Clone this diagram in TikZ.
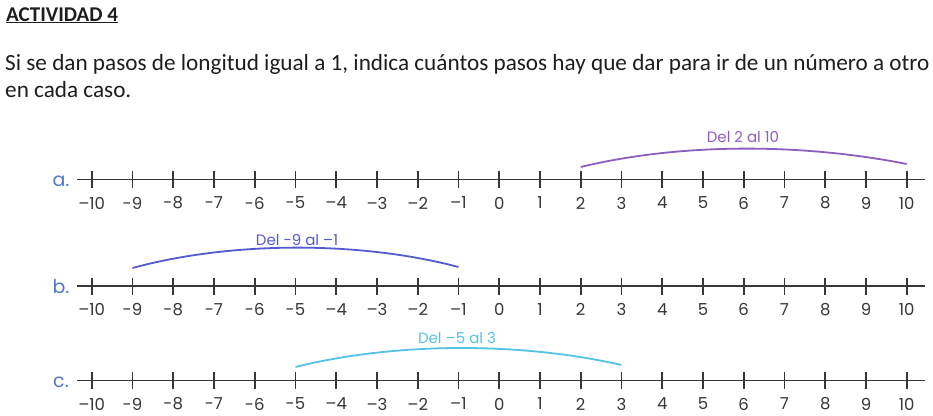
\documentclass[tikz,border=0pt]{standalone}
\usepackage{fontspec}
\setmainfont{Carlito}
\newfontfamily\numfont{Poppins}
\definecolor{ink}{RGB}{30,30,30}
\definecolor{axisgray}{RGB}{55,55,55}
\definecolor{rowblue}{RGB}{80,120,200}
\definecolor{arcpurple}{RGB}{140,95,190}
\definecolor{arcblue}{RGB}{85,90,205}
\definecolor{arccyan}{RGB}{85,195,230}
\begin{document}
\begin{tikzpicture}[x=1pt,y=-1pt,
  axis/.style={draw=axisgray,line width=1.8pt},
  tickmark/.style={draw=axisgray,line width=1.6pt},
  numlab/.style={font=\numfont\fontsize{16.5}{16.5}\selectfont,text=axisgray,inner sep=0pt},
  rowlab/.style={font=\numfont\fontsize{19}{19}\selectfont,text=rowblue,inner sep=0pt,anchor=base},
  arclab/.style={font=\numfont\fontsize{15}{15}\selectfont,inner sep=0pt},
  arcline/.style={line width=1.8pt}]
\useasboundingbox (0,0) rectangle (933,415);
\fill[white] (0,0) rectangle (933,415);
\node[anchor=base west,inner sep=0pt,font=\fontsize{21}{21}\selectfont\bfseries,text=ink] (title) at (6,21) {\underline{ACTIVIDAD 4}};
\node[anchor=base west,inner sep=0pt,font=\fontsize{23.2}{23.2}\selectfont,text=ink] (line1) at (5,70) {Si se dan pasos de longitud igual a 1, indica cuántos pasos hay que dar para ir de un número a otro};
\node[anchor=base west,inner sep=0pt,font=\fontsize{23.2}{23.2}\selectfont,text=ink] (line2) at (5,97) {en cada caso.};
\foreach \row/\y/\lab in {a/179.5/a., b/286/b., c/380.5/c.}{
  \node[rowlab] (\row lab) at (61,{\y+7}) {\lab};
  \coordinate (\row L) at (77,\y);
  \coordinate (\row R) at (925,\y);
  \draw[axis] (\row L) -- (\row R);
  \foreach \n/\t in {-10/–10,-9/-9,-8/-8,-7/-7,-6/-6,-5/-5,-4/–4,-3/–3,-2/–2,-1/–1,0/0,1/1,2/2,3/3,4/4,5/5,6/6,7/7,8/8,9/9,10/10}{
    \coordinate (\row\n) at ({499.2+40.75*\n},\y);
    \draw[tickmark] (\row\n) ++(0,-8.5) -- ++(0,17);
    \node[numlab] (\row n\n) at ({499.2+40.75*\n},{\y+23.5}) {\t};
  }
}
% a
\draw[arcline,arcpurple] ([yshift=12.5pt]a2) .. controls +(99,-24) and +(-106,-21) .. ([yshift=15.5pt]a10);
\node[arclab,text=arcpurple] (alab) at (743,137) {Del 2 al 10};
% b
\draw[arcline,arcblue] ([yshift=18pt]b-9) .. controls +(99,-27) and +(-98,-26) .. ([yshift=19pt]b-1);
\node[arclab,text=arcblue] (blab) at (297,240) {Del -9 al –1};
% c
\draw[arcline,arccyan] ([yshift=13.5pt]c-5) .. controls +(100,-25) and +(-100,-23) .. ([yshift=15.5pt]c3);
\node[arclab,text=arccyan] (clab) at (457,338) {Del –5 al 3};
\end{tikzpicture}
\end{document}
